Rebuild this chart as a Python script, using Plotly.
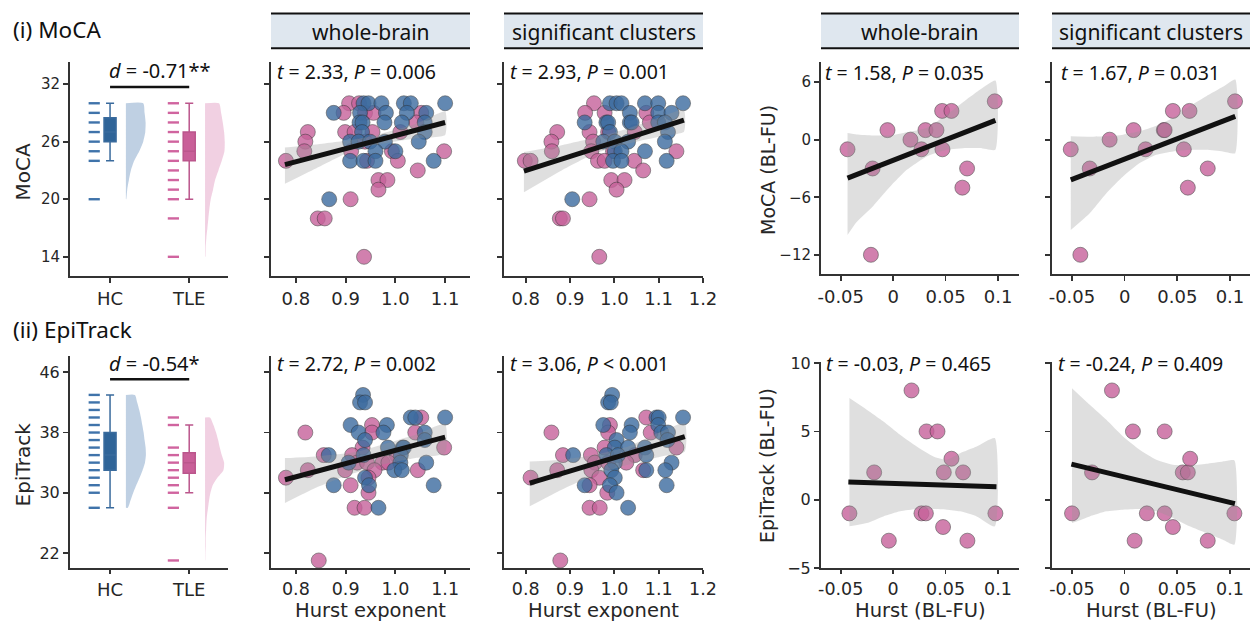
import plotly.graph_objects as go

W, H = 1253, 623
def px(x): return x / W
def py(y): return 1 - y / H

# ---------------- data ----------------
groups = ["HC", "TLE"]
group_pos = [0, 1]

# MoCA raincloud
moca_hc_levels = [20, 24, 25, 26, 27, 28, 29, 30]
moca_tle_levels = [14, 18, 20, 21, 22, 23, 24, 25, 26, 27, 28, 29, 30]
moca_q1 = [26, 24]; moca_med = [27, 25]; moca_q3 = [28.5, 27]
moca_lo = [24, 20]; moca_hi = [30, 30]
moca_hc_dens_y = [30, 29, 28, 27, 26, 25, 24, 23, 22, 21, 20]
moca_hc_dens_w = [0.219, 0.236, 0.249, 0.245, 0.219, 0.169, 0.105, 0.063, 0.038, 0.017, 0.004]
moca_tle_dens_y = [30, 29, 28, 27, 26, 25, 24, 23, 22, 21, 20, 19, 18, 17, 16, 15, 14]
moca_tle_dens_w = [0.177, 0.203, 0.224, 0.241, 0.249, 0.245, 0.211, 0.169, 0.127, 0.101, 0.072,
                   0.055, 0.042, 0.030, 0.017, 0.008, 0.004]

# EpiTrack raincloud
epi_hc_levels = [28, 30, 31, 32, 33, 34, 35, 36, 37, 38, 39, 40, 41, 42, 43]
epi_tle_levels = [21, 28, 30, 31, 32, 33, 34, 35, 36, 39, 40]
epi_q1 = [33, 32.6]; epi_med = [35, 34]; epi_q3 = [38, 35.3]
epi_lo = [28, 30]; epi_hi = [43, 39]
epi_hc_dens_y = [43, 42, 41, 40, 39, 38, 37, 36, 35, 34, 33, 32, 31, 30, 29, 28]
epi_hc_dens_w = [0.114, 0.143, 0.169, 0.190, 0.207, 0.224, 0.236, 0.249, 0.253, 0.241, 0.211,
                 0.173, 0.131, 0.093, 0.059, 0.025]
epi_tle_dens_y = [40, 39, 38, 37, 36, 35, 34, 33, 32, 31, 30, 29, 28, 27, 26, 25, 24, 23, 22, 21]
epi_tle_dens_w = [0.063, 0.106, 0.139, 0.165, 0.186, 0.211, 0.241, 0.232, 0.156, 0.097, 0.068,
                  0.051, 0.038, 0.025, 0.017, 0.013, 0.008, 0.008, 0.004, 0.002]

# MoCA vs Hurst, whole-brain
mw_hc_x = [0.936, 0.946, 0.972, 1.017, 1.031, 1.100, 0.876, 0.929, 0.981, 1.023, 1.062,
           0.928, 0.934, 0.978, 1.013, 1.059, 0.933, 1.059, 0.909, 0.926, 0.949, 0.979, 1.047,
           0.960, 1.000, 0.909, 0.936, 0.960, 1.077, 0.867]
mw_hc_y = [30, 30, 30, 30, 30, 30, 29, 29, 29, 29, 29,
           28, 28, 28, 28, 28, 27, 27, 26, 26, 26, 26, 26,
           25, 25, 24, 24, 24, 24, 20]
mw_tle_x = [0.907, 0.927, 0.896, 0.939, 0.956, 1.052, 1.042, 0.824, 0.899, 0.918, 0.954, 1.010,
            0.819, 0.939, 0.817, 0.911, 0.993, 1.098, 0.780, 0.943, 1.005, 1.045, 0.966, 0.984,
            0.966, 0.910, 0.844, 0.858, 0.937]
mw_tle_y = [30, 30, 29, 29, 29, 29, 28, 27, 27, 27, 27, 27,
            26, 26, 25, 25, 25, 25, 24, 24, 24, 23, 22, 22,
            21, 20, 18, 18, 14]
mw_fit_x = [0.778, 1.100]; mw_fit_y = [23.6, 28.0]
mw_ci_x = [0.778, 0.839, 0.907, 0.939, 0.973, 1.040, 1.100]
mw_ci_hi = [25.38, 25.70, 26.15, 26.43, 26.85, 27.83, 29.13]
mw_ci_lo = [21.61, 23.18, 24.93, 25.45, 25.80, 26.33, 26.68]

# MoCA vs Hurst, significant clusters
ms_hc_x = [0.990, 1.005, 1.016, 1.069, 1.099, 1.155, 1.035, 1.099, 1.129,
           0.933, 0.982, 0.986, 1.035, 1.039, 1.099, 1.114, 0.990, 1.121,
           0.975, 1.001, 1.031, 1.114, 1.001, 1.016, 1.069, 0.997, 1.016, 1.118, 0.905]
ms_hc_y = [30, 30, 30, 30, 30, 30, 29, 29, 29,
           28, 28, 28, 28, 28, 28, 28, 27, 27,
           26, 26, 26, 26, 25, 25, 25, 24, 24, 24, 20]
ms_tle_x = [0.954, 0.934, 0.978, 1.072, 1.080, 0.871, 0.944, 0.986, 1.046, 0.858, 0.952,
            0.859, 0.948, 0.997, 1.140, 0.798, 0.811, 0.963, 0.978, 1.045, 1.065,
            0.993, 1.023, 1.005, 0.944, 0.877, 0.884, 0.966]
ms_tle_y = [30, 29, 29, 29, 28, 27, 27, 27, 27, 26, 26,
            25, 25, 25, 25, 24, 24, 24, 24, 24, 23,
            22, 22, 21, 20, 18, 18, 14]
ms_fit_x = [0.796, 1.157]; ms_fit_y = [22.94, 28.25]
ms_ci_x = [0.796, 0.881, 0.956, 1.031, 1.106, 1.157]
ms_ci_hi = [24.93, 25.63, 26.43, 27.38, 28.60, 29.30]
ms_ci_lo = [20.73, 23.00, 24.76, 25.80, 26.57, 27.03]

# EpiTrack vs Hurst, whole-brain
ew_hc_x = [0.935, 0.929, 0.939, 1.031, 1.040, 1.100, 0.910, 0.983, 0.926, 0.976, 1.059,
           0.939, 1.059, 0.985, 1.015, 1.017, 0.866, 0.936, 1.011, 0.906, 1.010, 1.062,
           0.998, 1.013, 0.939, 0.876, 0.947, 1.077, 0.966]
ew_hc_y = [43, 42, 42, 40, 40, 40, 39, 39, 38, 38, 38,
           37, 37, 36, 36, 36, 35, 35, 35, 34, 34, 34,
           33, 33, 32, 31, 31, 31, 28]
ew_tle_x = [1.052, 0.953, 0.819, 0.953, 1.040, 0.934, 1.098, 0.856, 0.913, 1.003,
            0.923, 0.943, 0.974, 0.986, 0.824, 0.899, 0.958, 1.045, 0.780, 0.946,
            0.910, 0.946, 0.918, 0.938, 0.846]
ew_tle_y = [40, 39, 38, 38, 38, 36, 36, 35, 35, 35,
            34, 34, 34, 34, 33, 33, 33, 33, 32, 32,
            31, 30, 28, 28, 21]
ew_fit_x = [0.778, 1.100]; ew_fit_y = [31.73, 37.39]
ew_ci_x = [0.778, 0.839, 0.907, 0.939, 0.973, 1.040, 1.100]
ew_ci_hi = [34.60, 34.83, 35.27, 35.71, 36.37, 37.70, 39.15]
ew_ci_lo = [28.64, 30.63, 32.40, 33.06, 33.72, 34.60, 35.27]

# EpiTrack vs Hurst, significant clusters
es_hc_x = [0.995, 0.986, 0.992, 1.095, 1.100, 1.155, 0.975, 1.039, 1.099, 1.035, 1.106, 1.121,
           1.005, 1.120, 1.001, 1.031, 1.069, 0.907, 0.982, 1.008, 1.072, 1.001, 1.129,
           0.993, 1.072, 1.115, 1.001, 0.933, 0.990, 1.118, 1.005, 1.031]
es_hc_y = [43, 42, 42, 40, 40, 40, 39, 39, 39, 38, 38, 38,
           37, 37, 36, 36, 36, 35, 35, 35, 35, 34, 34,
           33, 33, 33, 32, 31, 31, 31, 30, 28]
es_tle_x = [1.072, 0.990, 0.858, 0.986, 1.082, 0.978, 1.140, 0.884, 0.947, 1.046,
            0.956, 0.986, 1.027, 0.871, 0.948, 1.065, 0.811, 0.966, 0.944, 0.984,
            0.944, 0.967, 0.878]
es_tle_y = [40, 39, 38, 38, 38, 36, 36, 35, 35, 35,
            34, 34, 34, 33, 33, 33, 32, 32, 31, 30,
            28, 28, 21]
es_fit_x = [0.809, 1.159]; es_fit_y = [31.29, 37.47]
es_ci_x = [0.809, 0.881, 0.956, 1.031, 1.106, 1.159]
es_ci_hi = [34.16, 34.38, 35.05, 36.15, 38.14, 39.24]
es_ci_lo = [28.20, 30.41, 32.40, 33.72, 34.83, 35.49]

# Longitudinal: MoCA change vs Hurst change, whole-brain
lmw_x = [-0.0435, -0.0196, -0.0212, -0.0054, 0.0165, 0.027, 0.0308, 0.0413, 0.0467, 0.0556,
         0.047, 0.066, 0.0705, 0.0969]
lmw_y = [-1, -3, -12, 1, 0, -1, 1, 1, 3, 3, -1, -5, -3, 4]
lmw_fit_x = [-0.0435, 0.0975]; lmw_fit_y = [-4.01, 2.02]
lmw_ci_x = [-0.0435, -0.035, -0.019, -0.003, 0.013, 0.032, 0.051, 0.070, 0.083, 0.0975]
lmw_ci_hi = [0.70, 0.55, 0.45, 0.45, 0.77, 1.22, 2.60, 4.19, 5.23, 6.17]
lmw_ci_lo = [-9.94, -8.6, -6.9, -4.9, -3.14, -1.74, -1.05, -0.87, -0.87, -1.05]

# Longitudinal: MoCA change, significant clusters
lms_x = [-0.0511, -0.0331, -0.042, -0.0142, 0.0085, 0.0199, 0.0372, 0.038, 0.0458, 0.0562,
         0.0616, 0.060, 0.0789, 0.1048]
lms_y = [-1, -3, -12, 0, 1, -1, 1, 1, 3, -1, 3, -5, -3, 4]
lms_fit_x = [-0.0511, 0.105]; lms_fit_y = [-4.19, 2.44]
lms_ci_x = [-0.0511, -0.0331, -0.0173, -0.0015, 0.0143, 0.0301, 0.0459, 0.0617, 0.0775, 0.0933, 0.105]
lms_ci_hi = [0.35, 0.30, 0.35, 0.52, 0.87, 1.46, 2.27, 3.49, 4.53, 5.51, 6.28]
lms_ci_lo = [-9.42, -7.67, -5.58, -3.84, -2.44, -1.57, -1.22, -1.05, -1.05, -1.22, -1.40]

# Longitudinal: EpiTrack change, whole-brain
lew_x = [-0.0417, -0.0181, -0.0041, 0.0175, 0.027, 0.0312, 0.0318, 0.0423, 0.0476, 0.0483,
         0.0556, 0.0667, 0.0708, 0.0975]
lew_y = [-1, 2, -3, 8, -1, -1, 5, 5, -2, 2, 3, 2, -3, -1]
lew_fit_x = [-0.0427, 0.0985]; lew_fit_y = [1.29, 0.95]
lew_ci_x = [-0.0417, -0.0252, -0.0093, 0.0066, 0.0225, 0.0384, 0.0511, 0.0638, 0.0797, 0.0969]
lew_ci_hi = [7.44, 6.59, 5.73, 4.76, 3.90, 3.17, 2.93, 3.41, 3.90, 4.51]
lew_ci_lo = [-1.95, -1.71, -1.22, -0.85, -0.68, -0.68, -0.73, -0.85, -1.22, -1.95]

# Longitudinal: EpiTrack change, significant clusters
les_x = [-0.0499, -0.0309, -0.012, 0.0079, 0.0095, 0.0211, 0.038, 0.038, 0.0458, 0.0552,
         0.060, 0.0622, 0.0789, 0.1042]
les_y = [-1, 2, 8, 5, -3, -1, 5, -1, -2, 2, 2, 3, -3, -1]
les_fit_x = [-0.0505, 0.1047]; les_fit_y = [2.61, -0.29]
les_ci_x = [-0.0499, -0.0331, -0.0173, -0.0015, 0.0143, 0.0301, 0.0459, 0.0617, 0.0775, 0.0933, 0.1042]
les_ci_hi = [8.17, 6.95, 5.85, 4.63, 3.66, 2.93, 2.56, 2.49, 2.63, 2.80, 2.88]
les_ci_lo = [-1.71, -1.22, -0.85, -0.73, -0.68, -0.85, -1.34, -1.95, -2.44, -2.93, -3.29]

stats_text = ["<i>t</i> = 2.33, <i>P</i> = 0.006", "<i>t</i> = 2.93, <i>P</i> = 0.001",
              "<i>t</i> = 1.58, <i>P</i> = 0.035", "<i>t</i> = 1.67, <i>P</i> = 0.031",
              "<i>t</i> = 2.72, <i>P</i> = 0.002", "<i>t</i> = 3.06, <i>P</i> &lt; 0.001",
              "<i>t</i> = -0.03, <i>P</i> = 0.465", "<i>t</i> = -0.24, <i>P</i> = 0.409"]
effect_text = ["<i>d</i> = -0.71**", "<i>d</i> = -0.54*"]
header_text = ["whole-brain", "significant clusters", "whole-brain", "significant clusters"]

# ---------------- style ----------------
HC_C = "#3c6b9f"
TLE_C = "#c6619a"
HC_BOX = "#2f6498"; HC_BOX_L = "#3a6b9d"
TLE_BOX = "#c95f98"; TLE_BOX_L = "#bb568c"
HC_VIO = "rgba(160,186,214,0.68)"
TLE_VIO = "rgba(232,176,206,0.60)"
AX_C = "#333333"
TICK_FONT = "DejaVu Sans"
TXT_FONT = "Noto Sans"

fig = go.Figure()

cols = {"A": (70, 228), "B": (271, 470), "C": (504, 703), "D": (821, 1019), "E": (1052, 1250)}
rows_left = {1: (62, 276), 2: (356, 568)}
rows_right = {1: (62, 274), 2: (361.5, 568)}

axmap = {}
idx = 0
for r in (1, 2):
    for c in "ABCDE":
        idx += 1
        axmap[(c, r)] = idx

def axnames(c, r):
    i = axmap[(c, r)]
    return ("x" if i == 1 else f"x{i}"), ("y" if i == 1 else f"y{i}")

def add_rain(r, levels_pair, q1, med, q3, lo, hi, dens_pairs):
    xa, ya = axnames("A", r)
    rug_c = ["#3f73aa", "#d0649f"]
    for g in range(2):
        base = group_pos[g]
        lv = levels_pair[g]
        fig.add_trace(go.Scatter(x=[base - 0.2] * len(lv), y=lv, mode="markers",
                                 marker=dict(symbol="line-ew", size=8,
                                             line=dict(width=2.4, color=rug_c[g])),
                                 xaxis=xa, yaxis=ya, showlegend=False, hoverinfo="skip"))
        dy, dw = dens_pairs[g]
        vx = [base + 0.2] + [base + 0.2 + w for w in dw] + [base + 0.2]
        vy = [dy[0]] + list(dy) + [dy[-1]]
        fig.add_trace(go.Scatter(x=vx, y=vy, mode="lines", fill="toself",
                                 fillcolor=[HC_VIO, TLE_VIO][g], line=dict(width=0, shape="spline", smoothing=0.6),
                                 xaxis=xa, yaxis=ya, showlegend=False, hoverinfo="skip"))
        fig.add_trace(go.Box(x=[base], q1=[q1[g]], median=[med[g]], q3=[q3[g]],
                             lowerfence=[lo[g]], upperfence=[hi[g]], width=0.152, whiskerwidth=0.67,
                             fillcolor=[HC_BOX, TLE_BOX][g],
                             line=dict(color=[HC_BOX_L, TLE_BOX_L][g], width=1.5),
                             boxpoints=False, xaxis=xa, yaxis=ya, showlegend=False, hoverinfo="skip"))

add_rain(1, (moca_hc_levels, moca_tle_levels), moca_q1, moca_med, moca_q3, moca_lo, moca_hi,
         ((moca_hc_dens_y, moca_hc_dens_w), (moca_tle_dens_y, moca_tle_dens_w)))
add_rain(2, (epi_hc_levels, epi_tle_levels), epi_q1, epi_med, epi_q3, epi_lo, epi_hi,
         ((epi_hc_dens_y, epi_hc_dens_w), (epi_tle_dens_y, epi_tle_dens_w)))

def add_scatter(c, r, groups_xy, fit_x, fit_y, ci_x, ci_hi, ci_lo):
    xa, ya = axnames(c, r)
    for (gx, gy, col) in groups_xy:
        fig.add_trace(go.Scatter(x=gx, y=gy, mode="markers",
                                 marker=dict(size=15, color=col, opacity=0.8,
                                             line=dict(color="rgba(45,45,45,0.75)", width=0.8)),
                                 xaxis=xa, yaxis=ya, showlegend=False, hoverinfo="skip"))
    fig.add_trace(go.Scatter(x=list(ci_x) + list(ci_x)[::-1], y=list(ci_hi) + list(ci_lo)[::-1],
                             mode="lines", fill="toself", fillcolor="rgba(150,150,150,0.30)",
                             line=dict(width=0, shape="spline", smoothing=0.5),
                             xaxis=xa, yaxis=ya, showlegend=False, hoverinfo="skip"))
    fig.add_trace(go.Scatter(x=fit_x, y=fit_y, mode="lines", line=dict(color="#111111", width=5),
                             xaxis=xa, yaxis=ya, showlegend=False, hoverinfo="skip"))

add_scatter("B", 1, [(mw_tle_x, mw_tle_y, TLE_C), (mw_hc_x, mw_hc_y, HC_C)], mw_fit_x, mw_fit_y, mw_ci_x, mw_ci_hi, mw_ci_lo)
add_scatter("C", 1, [(ms_tle_x, ms_tle_y, TLE_C), (ms_hc_x, ms_hc_y, HC_C)], ms_fit_x, ms_fit_y, ms_ci_x, ms_ci_hi, ms_ci_lo)
add_scatter("B", 2, [(ew_tle_x, ew_tle_y, TLE_C), (ew_hc_x, ew_hc_y, HC_C)], ew_fit_x, ew_fit_y, ew_ci_x, ew_ci_hi, ew_ci_lo)
add_scatter("C", 2, [(es_tle_x, es_tle_y, TLE_C), (es_hc_x, es_hc_y, HC_C)], es_fit_x, es_fit_y, es_ci_x, es_ci_hi, es_ci_lo)
add_scatter("D", 1, [(lmw_x, lmw_y, TLE_C)], lmw_fit_x, lmw_fit_y, lmw_ci_x, lmw_ci_hi, lmw_ci_lo)
add_scatter("E", 1, [(lms_x, lms_y, TLE_C)], lms_fit_x, lms_fit_y, lms_ci_x, lms_ci_hi, lms_ci_lo)
add_scatter("D", 2, [(lew_x, lew_y, TLE_C)], lew_fit_x, lew_fit_y, lew_ci_x, lew_ci_hi, lew_ci_lo)
add_scatter("E", 2, [(les_x, les_y, TLE_C)], les_fit_x, les_fit_y, les_ci_x, les_ci_hi, les_ci_lo)

# ---------------- axes ----------------
layout = {}
base_ax = dict(showline=True, linecolor=AX_C, linewidth=2, ticks="outside", ticklen=5, tickwidth=1.8,
               tickcolor=AX_C, showgrid=False, zeroline=False, automargin=False)

x_ranges = {"A": [-0.506, 1.49], "B": [0.75, 1.15], "C": [0.751, 1.2], "D": [-0.0688, 0.12], "E": [-0.0689, 0.119]}
hurst_ticks = [0.8, 0.9, 1.0, 1.1]
hurst_ticks_c = [0.8, 0.9, 1.0, 1.1, 1.2]
hurst_labels = ["0.8", "0.9", "1.0", "1.1"]
hurst_labels_c = ["0.8", "0.9", "1.0", "1.1", "1.2"]
delta_ticks = [-0.05, 0, 0.05, 0.1]
delta_labels = ["-0.05", "0", "0.05", "0.1"]
moca_ticks = [14, 20, 26, 32]
epi_ticks = [22, 30, 38, 46]
dmoca_ticks = [-12, -6, 0, 6]
dmoca_labels = ["\u221212", "\u22126", "0", "6"]
depi_ticks = [-5, 0, 5, 10]
depi_labels = ["\u22125", "0", "5", "10"]

xt = {"A": (group_pos, groups), "B": (hurst_ticks, hurst_labels), "C": (hurst_ticks_c, hurst_labels_c),
      "D": (delta_ticks, delta_labels), "E": (delta_ticks, delta_labels)}

for (c, r), i in axmap.items():
    xk = "xaxis" if i == 1 else f"xaxis{i}"
    yk = "yaxis" if i == 1 else f"yaxis{i}"
    x0, x1 = cols[c]
    ydom = rows_left[r] if c in "ABC" else rows_right[r]
    yn = "y" if i == 1 else f"y{i}"
    xn = "x" if i == 1 else f"x{i}"
    tv, tt = xt[c]
    xfs = 18 if (r == 1 or c == "A") else 17.5
    layout[xk] = dict(base_ax, domain=[px(x0), px(x1)], range=x_ranges[c], anchor=yn,
                      tickmode="array", tickvals=tv, ticktext=tt,
                      ticklen=5 if r == 1 else 4,
                      tickfont=dict(family=TICK_FONT, size=xfs, color="#262626"))
    if c in "ABC":
        if r == 1:
            yr = [12.0, 34.3]; ytv = moca_ticks; ytt = [str(v) for v in moca_ticks]
        else:
            yr = [20.0, 48.17]; ytv = epi_ticks; ytt = [str(v) for v in epi_ticks]
    else:
        if r == 1:
            yr = [-14.0, 8.1]; ytv = dmoca_ticks; ytt = dmoca_labels
        else:
            yr = [-5.0, 10.12]; ytv = depi_ticks; ytt = depi_labels
    layout[yk] = dict(base_ax, domain=[py(ydom[1]), py(ydom[0])], range=yr, anchor=xn,
                      tickmode="array", tickvals=ytv, ticktext=ytt,
                      showticklabels=(c in "AD"),
                      tickfont=dict(family=TICK_FONT, size=15 if r == 1 else 16, color="#262626"))

# ---------------- annotations & shapes ----------------
ann = []
shapes = []

def txt(x, y, s, size, family=TXT_FONT, xanchor="center", yanchor="middle", angle=0, color="#111111", pad=1):
    ann.append(dict(x=px(x), y=py(y), xref="paper", yref="paper", text=s, showarrow=False,
                    xanchor=xanchor, yanchor=yanchor, textangle=angle, borderpad=pad,
                    font=dict(family=family, size=size, color=color)))

txt(11, 30, "(i) MoCA", 22.5, xanchor="left")
txt(11, 330, "(ii) EpiTrack", 22.5, xanchor="left")

for (c, s) in zip("BCDE", header_text):
    x0, x1 = cols[c]
    shapes.append(dict(type="rect", xref="paper", yref="paper", x0=px(x0), x1=px(x1),
                       y0=py(48), y1=py(14), fillcolor="#dfe7ef", line=dict(width=0), layer="below"))
    for yy in (13.5, 48.3):
        shapes.append(dict(type="line", xref="paper", yref="paper", x0=px(x0), x1=px(x1),
                           y0=py(yy), y1=py(yy), line=dict(color="#111111", width=2)))
    txt((x0 + x1) / 2, 31.5, s, 21)

stat_pos = [(275, 71), (508, 71), (823, 72), (1059, 72), (275, 363), (508, 363), (824, 363), (1056, 363)]
for (x, y), s in zip(stat_pos, stats_text):
    txt(x, y, s, 19.5, xanchor="left")

for r, (ya, ln_y, tx_y) in zip((1, 2), (("y", 31.7, 33.4), ("y6", 45.07, 47.2))):
    xa = "x" if r == 1 else "x6"
    shapes.append(dict(type="line", xref=xa, yref=ya, x0=group_pos[0], x1=group_pos[1],
                       y0=ln_y, y1=ln_y, line=dict(color="#111111", width=2.5)))
    ann.append(dict(x=-0.04, y=tx_y, xref=xa, yref=ya, text=effect_text[r - 1], showarrow=False,
                    xanchor="left", yanchor="middle", font=dict(family=TXT_FONT, size=20, color="#111111")))

txt(22.5, 172, "MoCA", 20, family=TICK_FONT, angle=-90, color="#262626")
txt(22.5, 465, "EpiTrack", 20, family=TICK_FONT, angle=-90, color="#262626")
txt(768, 170, "MoCA (BL-FU)", 19, family=TICK_FONT, angle=-90, color="#262626")
txt(767, 466, "EpiTrack (BL-FU)", 19, family=TICK_FONT, angle=-90, color="#262626")
for c in "BC":
    txt(sum(cols[c]) / 2, 623, "Hurst exponent", 19.5, family=TICK_FONT, color="#262626",
        yanchor="bottom", pad=0)
for c in "DE":
    txt(sum(cols[c]) / 2, 623, "Hurst (BL-FU)", 19.5, family=TICK_FONT, color="#262626",
        yanchor="bottom", pad=0)

fig.update_layout(width=W, height=H, margin=dict(l=0, r=0, t=0, b=0, autoexpand=False),
                  paper_bgcolor="white", plot_bgcolor="white",
                  annotations=ann, shapes=shapes, showlegend=False, **layout)

fig.write_html("out.html", config={"displayModeBar": False, "staticPlot": True},
               post_script="document.body.style.margin='0px';document.body.style.padding='0px';"
                           "document.body.style.overflow='hidden';")
